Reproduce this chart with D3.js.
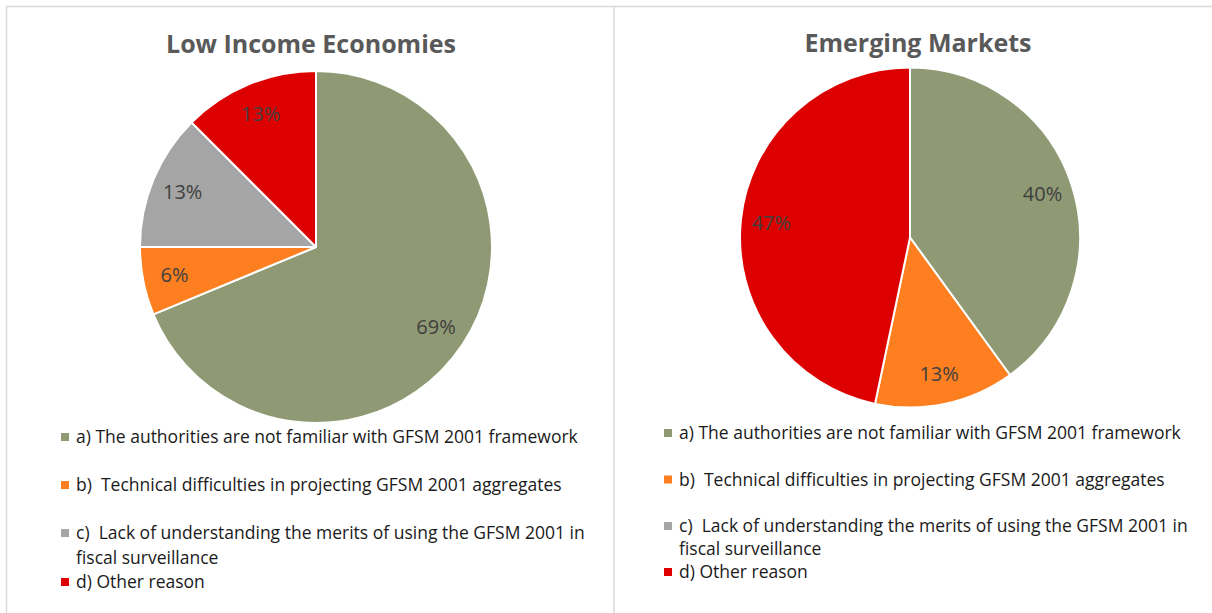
<!DOCTYPE html>
<html>
<head>
<meta charset="utf-8">
<script src="https://cdn.jsdelivr.net/npm/d3@7"></script>
<style>
  body { margin: 0; background: #fff; }
  svg { display: block; font-family: "Open Sans", sans-serif; }
  .legend-text { white-space: pre; }
</style>
</head>
<body>
<div id="chart"></div>
<script>
// categories shared by both pies
let categories = [
  "a) The authorities are not familiar with GFSM 2001 framework",
  "b)  Technical difficulties in projecting GFSM 2001 aggregates",
  "c)  Lack of understanding the merits of using the GFSM 2001 in fiscal surveillance",
  "d) Other reason"
];
let colors = ["#8f9a74", "#fd7f20", "#a5a5a5", "#dd0000"];

// shares in percent
let lowIncomeValues = [68.75, 6.25, 12.5, 12.5];
let emergingValues = [40, 13.3, 0, 46.7];

let panelTitles = ["Low Income Economies", "Emerging Markets"];

function drawChart(width, height, selector) {

  let legendFont = 17.5;

  let svg = d3.select(selector)
    .append("svg")
    .attr("width", width)
    .attr("height", height);

  svg.append("rect")
    .attr("width", width)
    .attr("height", height)
    .attr("fill", "#fff");

  // frame lines
  let frame = svg.append("g")
    .attr("stroke", "#d9d9d9")
    .attr("stroke-width", 1.5);
  frame.append("line").attr("x1", 6).attr("x2", width).attr("y1", 6.5).attr("y2", 6.5);
  frame.append("line").attr("x1", 6.5).attr("x2", 6.5).attr("y1", 6).attr("y2", height);
  frame.append("line").attr("x1", 614).attr("x2", 614).attr("y1", 6).attr("y2", height);

  let panels = [
    { title: panelTitles[0], values: lowIncomeValues, cx: 316, cy: 247, r: 176,
      titleX: 311, titleY: 53, legendX: 61, legendY: 437, rowGap: 48, lineGap: 24.5 },
    { title: panelTitles[1], values: emergingValues, cx: 910, cy: 237.5, r: 170,
      titleX: 918, titleY: 52, legendX: 664, legendY: 433, rowGap: 46.5, lineGap: 23 }
  ];

  let pie = d3.pie()
    .sort(null)
    .value(d => d.value);

  panels.forEach(function(p) {

    let g = svg.append("g");

    g.append("text")
      .attr("x", p.titleX)
      .attr("y", p.titleY)
      .attr("text-anchor", "middle")
      .attr("font-size", 25)
      .attr("font-weight", "bold")
      .attr("fill", "#595959")
      .text(p.title);

    let data = p.values.map((v, i) => ({ value: v, color: colors[i] }));

    let arc = d3.arc()
      .innerRadius(0)
      .outerRadius(p.r);

    let labelArc = d3.arc()
      .innerRadius(p.r * 0.82)
      .outerRadius(p.r * 0.82);

    let pieG = g.append("g")
      .attr("transform", "translate(" + p.cx + "," + p.cy + ")");

    let arcs = pie(data).filter(d => d.data.value > 0);

    pieG.selectAll("path")
      .data(arcs)
      .join("path")
      .attr("d", arc)
      .attr("fill", d => d.data.color)
      .attr("stroke", "#fff")
      .attr("stroke-width", 2)
      .attr("stroke-linejoin", "round");

    pieG.selectAll("text")
      .data(arcs)
      .join("text")
      .attr("transform", d => "translate(" + labelArc.centroid(d) + ")")
      .attr("text-anchor", "middle")
      .attr("dy", "0.35em")
      .attr("font-size", 20)
      .attr("fill", "#404040")
      .text(d => Math.round(d.data.value) + "%");

    // legend
    let legend = g.append("g");
    let y = p.legendY;
    categories.forEach(function(label, i) {
      let item = legend.append("g");
      item.append("rect")
        .attr("x", p.legendX)
        .attr("y", y - 4)
        .attr("width", 8)
        .attr("height", 8)
        .attr("fill", colors[i]);

      let lines = wrapLines(label, 512, item);
      lines.forEach(function(line, j) {
        item.append("text")
          .attr("class", "legend-text")
          .attr("x", p.legendX + 15)
          .attr("y", y + j * p.lineGap)
          .attr("dy", "0.35em")
          .attr("font-size", legendFont)
          .attr("fill", "#1a1a1a")
          .text(line);
      });
      y += (lines.length > 1 ? lines.length * p.lineGap : p.rowGap);
    });
  });

  function wrapLines(label, maxWidth, parent) {
    let probe = parent.append("text")
      .attr("class", "legend-text")
      .attr("font-size", legendFont);
    let words = label.split(" ");
    let lines = [];
    let current = "";
    words.forEach(function(w) {
      let test = current === "" ? w : current + " " + w;
      probe.text(test);
      if (probe.node().getComputedTextLength() > maxWidth && current !== "") {
        lines.push(current);
        current = w;
      } else {
        current = test;
      }
    });
    lines.push(current);
    probe.remove();
    return lines;
  }
}

drawChart(1212, 613, "#chart");
</script>
</body>
</html>
